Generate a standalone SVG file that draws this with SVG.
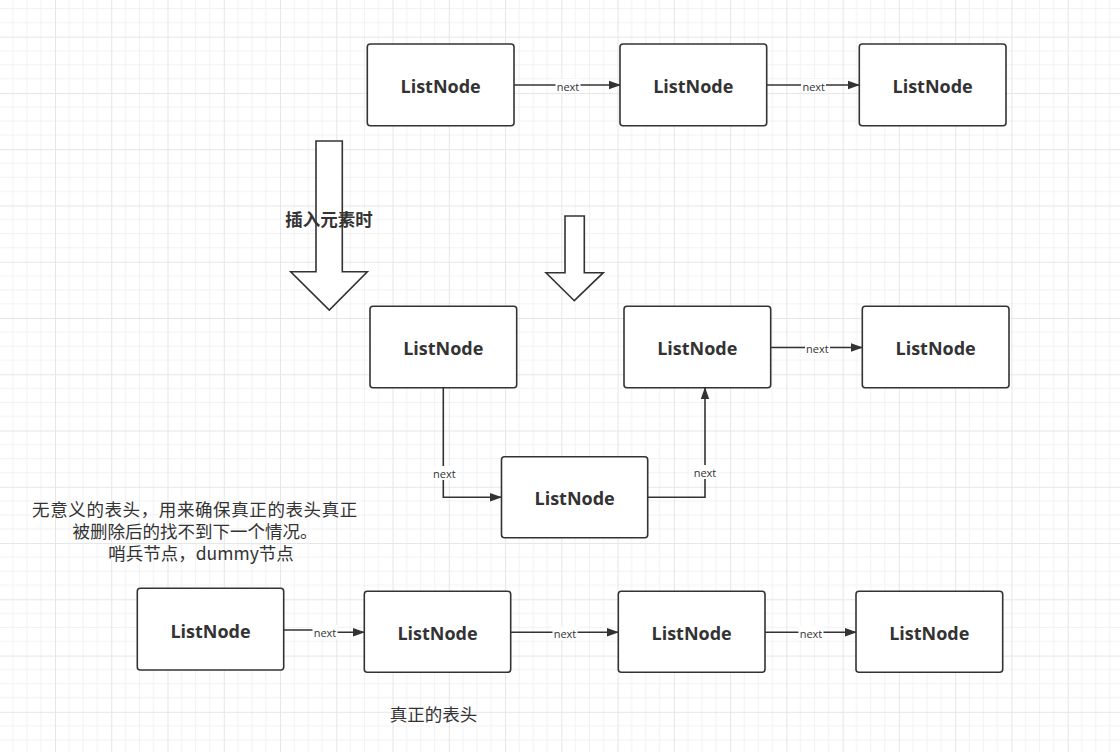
<svg xmlns="http://www.w3.org/2000/svg" width="1120" height="752" viewBox="0 0 1120 752">
<defs>
<pattern id="grid" x="-1.26" y="-19.56" width="56.26" height="56.26" patternUnits="userSpaceOnUse">
<path d="M14.07 0V56.26M28.13 0V56.26M42.2 0V56.26M0 14.07H56.26M0 28.13H56.26M0 42.2H56.26" stroke="#f2f2f2" stroke-width="1" fill="none"/>
<path d="M0.5 0V56.26M0 0.5H56.26" stroke="#e6e6e6" stroke-width="1" fill="none"/>
</pattern>
<marker id="arr" viewBox="0 0 12 10" refX="11" refY="5" markerWidth="12" markerHeight="10" markerUnits="userSpaceOnUse" orient="auto">
<path d="M0 0.8L12 5L0 9.2Z" fill="#333"/>
</marker>
<style>
.node rect{fill:#fff;stroke:#333;stroke-width:1.6}
.node text{font-family:"Open Sans","Noto Sans",sans-serif;font-weight:bold;font-size:18px;fill:#333;text-anchor:middle;dominant-baseline:central}
.edge{fill:none;stroke:#333;stroke-width:1.6;marker-end:url(#arr)}
.lbl{font-family:"Open Sans","Noto Sans",sans-serif;font-size:11px;fill:#333;text-anchor:middle;dominant-baseline:central}
.lblbg{fill:#fff}
.big{fill:#fff;stroke:#333;stroke-width:1.6}
.note{font-family:"Noto Sans CJK SC","Noto Sans",sans-serif;font-size:17.5px;fill:#333;text-anchor:middle;dominant-baseline:central}
</style>
</defs>
<rect width="1120" height="752" fill="#fff"/>
<rect width="1120" height="752" fill="url(#grid)"/>

<g id="bigArrows">
<path class="big" d="M316 141H342.3V271.7H367.3L329.3 310L290.7 271.7H316Z"/>
<path class="big" d="M565 216H584.3V272.7H603.3L574.3 300.7L546 272.7H565Z"/>
</g>
<text x="329" y="218.5" style="font-family:'Noto Sans CJK SC',sans-serif;font-weight:bold;font-size:17.5px;fill:#333;text-anchor:middle;dominant-baseline:central">插入元素时</text>

<g id="connectors">
<path class="edge" d="M514 85H620"/>
<path class="edge" d="M767 85H859"/>
<path class="edge" d="M771 347.5H862"/>
<path class="edge" d="M443.3 388V497.3H501"/>
<path class="edge" d="M648 497.3H705V388"/>
<path class="edge" d="M284 630H325V632.3H364"/>
<path class="edge" d="M511 632.3H618"/>
<path class="edge" d="M765 632.3H856"/>
<rect class="lblbg" x="555.5" y="79" width="25" height="14"/><text class="lbl" x="568" y="86">next</text>
<rect class="lblbg" x="801" y="79" width="25" height="14"/><text class="lbl" x="813.7" y="86">next</text>
<rect class="lblbg" x="805" y="341" width="25" height="14"/><text class="lbl" x="817.3" y="348">next</text>
<rect class="lblbg" x="432" y="466" width="25" height="14"/><text class="lbl" x="444.3" y="473">next</text>
<rect class="lblbg" x="692.5" y="465" width="25" height="14"/><text class="lbl" x="705" y="472">next</text>
<rect class="lblbg" x="312.5" y="625" width="25" height="14"/><text class="lbl" x="325" y="632">next</text>
<rect class="lblbg" x="552.5" y="626" width="25" height="14"/><text class="lbl" x="565" y="633">next</text>
<rect class="lblbg" x="798.5" y="626" width="25" height="14"/><text class="lbl" x="811" y="633">next</text>
</g>

<g id="n1" class="node"><rect x="367.3" y="44" width="146.7" height="81.7" rx="3"/><text x="440.6" y="85.5">ListNode</text></g>
<g id="n2" class="node"><rect x="620" y="44" width="146.7" height="81.7" rx="3"/><text x="693.3" y="85.5">ListNode</text></g>
<g id="n3" class="node"><rect x="859.3" y="44" width="146.7" height="81.7" rx="3"/><text x="932.6" y="85.5">ListNode</text></g>

<g id="m1" class="node"><rect x="370" y="306.3" width="146.7" height="81.4" rx="3"/><text x="443.3" y="348">ListNode</text></g>
<g id="m2" class="node"><rect x="624" y="306.3" width="146.7" height="81.4" rx="3"/><text x="697.3" y="348">ListNode</text></g>
<g id="m3" class="node"><rect x="862.3" y="306.3" width="146.7" height="81.4" rx="3"/><text x="935.6" y="348">ListNode</text></g>
<g id="m4" class="node"><rect x="501.5" y="456.7" width="146.2" height="81" rx="3"/><text x="574.6" y="498">ListNode</text></g>

<g id="b1" class="node"><rect x="137.3" y="588.3" width="146.4" height="81.7" rx="3"/><text x="210.5" y="630.5">ListNode</text></g>
<g id="b2" class="node"><rect x="364.3" y="591.3" width="146.4" height="81" rx="3"/><text x="437.5" y="633">ListNode</text></g>
<g id="b3" class="node"><rect x="618.3" y="591.3" width="146.7" height="81" rx="3"/><text x="691.6" y="633">ListNode</text></g>
<g id="b4" class="node"><rect x="856" y="591.3" width="146.7" height="81" rx="3"/><text x="929.3" y="633">ListNode</text></g>

<g id="notes">
<text class="note"><tspan x="195" y="508.3" letter-spacing="0.6">无意义的表头，用来确保真正的表头真正</tspan><tspan x="195" y="530">被删除后的找不到下一个情况。</tspan><tspan x="201" y="551.7">哨兵节点，dummy节点</tspan></text>
<text class="note" x="433.5" y="713">真正的表头</text>
</g>
</svg>
